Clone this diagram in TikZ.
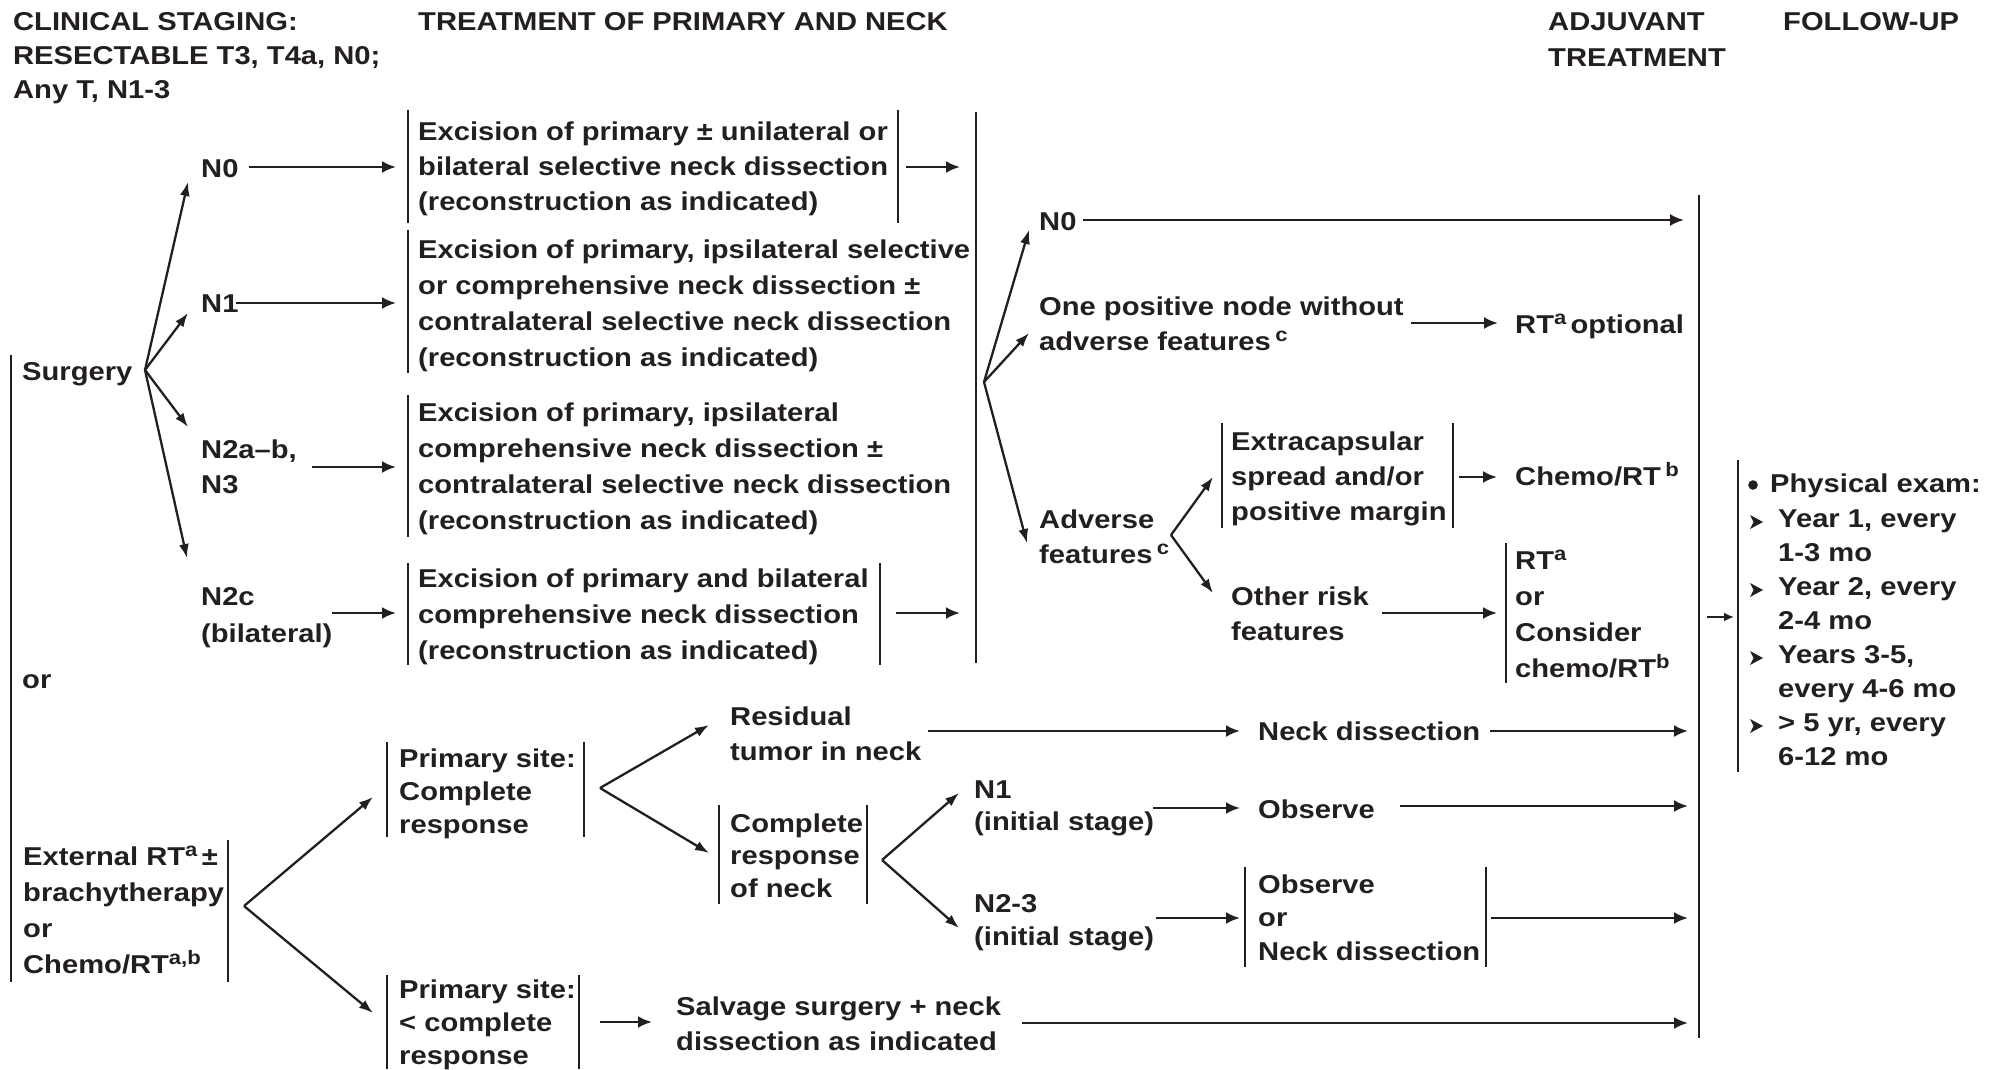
\documentclass[tikz,border=0pt]{standalone}
\usepackage{fontspec}
\setmainfont{Liberation Sans}[FakeStretch=1.13]
\usetikzlibrary{arrows.meta}
\definecolor{ink}{HTML}{231F20}
\newcommand{\sps}[1]{\raisebox{9pt}{\fontsize{19.5}{19.5}\selectfont #1}}
\begin{document}
\begin{tikzpicture}[x=1pt,y=-1pt,
  txt/.style={anchor=base west, inner sep=0pt, align=left, text=ink, font=\fontsize{25.8}{#1}\selectfont\bfseries},
  txt/.default=35.5,
  bar/.style={draw=ink, line width=2.6pt},
  arr/.style={draw=ink, line width=2.6pt, -{Latex[length=14pt,width=12pt]}},
  darr/.style={draw=ink, line width=2.3pt, -{Latex[length=14pt,width=10pt]}},
]
\useasboundingbox (0,0) rectangle (1999,1069);
% multi-line nodes are placed by the baseline of their LAST line

% ---------------- headers
\node[txt=34] (h1) at (13,98) {CLINICAL STAGING:\\RESECTABLE T3, T4a, N0;\\Any T, N1-3};
\node[txt] (h2) at (418,30) {TREATMENT OF PRIMARY AND NECK};
\node[txt=36] (h3) at (1548,66) {ADJUVANT\\TREATMENT};
\node[txt] (h4) at (1783,30) {FOLLOW-UP};

% ---------------- surgery branch
\draw[bar] (11,355) coordinate (lbT) -- (11,982) coordinate (lbB);
\node[txt] (surg) at (22,380) {Surgery};
\node[txt] (or1) at (22,688) {or};
\coordinate (sA) at (145,370);
\node[txt] (n0) at (201,177) {N0};
\node[txt] (n1) at (201,312) {N1};
\node[txt=35] (n2ab) at (201,493) {N2a–b,\\N3};
\node[txt=37] (n2c) at (201,642) {N2c\\(bilateral)};
\coordinate (tN0) at (188,182);
\coordinate (tN1) at (188,313);
\coordinate (tN2ab) at (188,427);
\coordinate (tN2c) at (187,558);
\draw[darr] (sA) -- (tN0);
\draw[darr] (sA) -- (tN1);
\draw[darr] (sA) -- (tN2ab);
\draw[darr] (sA) -- (tN2c);

\coordinate (n0s) at (249,167);  \coordinate (b1w) at (396,167);
\coordinate (n1s) at (236,303);  \coordinate (b2w) at (396,303);
\coordinate (n2abs) at (312,467); \coordinate (b3w) at (396,467);
\coordinate (n2cs) at (332,613);  \coordinate (b4w) at (396,613);
\draw[arr] (n0s) -- (b1w);
\draw[arr] (n1s) -- (b2w);
\draw[arr] (n2abs) -- (b3w);
\draw[arr] (n2cs) -- (b4w);

\node[txt=35] (b1) at (418,210) {Excision of primary ± unilateral or\\bilateral selective neck dissection\\(reconstruction as indicated)};
\draw[bar] (408,110) -- (408,223);
\draw[bar] (898,110) -- (898,223);
\node[txt=36] (b2) at (418,366) {Excision of primary, ipsilateral selective\\or comprehensive neck dissection ±\\contralateral selective neck dissection\\(reconstruction as indicated)};
\draw[bar] (408,230) -- (408,373);
\node[txt=35.7] (b3) at (418,529) {Excision of primary, ipsilateral\\comprehensive neck dissection ±\\contralateral selective neck dissection\\(reconstruction as indicated)};
\draw[bar] (408,395) -- (408,537);
\node[txt=36] (b4) at (418,659) {Excision of primary and bilateral\\comprehensive neck dissection\\(reconstruction as indicated)};
\draw[bar] (408,563) -- (408,665);
\draw[bar] (880,563) -- (880,665);
\coordinate (b1e) at (906,167); \coordinate (m1) at (960,167);
\coordinate (b4e) at (896,613); \coordinate (m4) at (960,613);
\draw[arr] (b1e) -- (m1);
\draw[arr] (b4e) -- (m4);
\draw[bar] (976,112) -- (976,663);

% ---------------- adjuvant
\coordinate (rA) at (984,382);
\coordinate (tR0) at (1029,230);
\coordinate (tR1) at (1029,333);
\coordinate (tR2) at (1027,543);
\draw[darr] (rA) -- (tR0);
\draw[darr] (rA) -- (tR1);
\draw[darr] (rA) -- (tR2);
\node[txt] (rn0) at (1039,230) {N0};
\coordinate (rn0s) at (1083,220); \coordinate (rn0e) at (1684,220);
\draw[arr] (rn0s) -- (rn0e);
\node[txt=35] (one) at (1039,350) {One positive node without\\adverse features\,\sps{c}};
\coordinate (ones) at (1411,323); \coordinate (onee) at (1498,323);
\draw[arr] (ones) -- (onee);
\node[txt] (rtopt) at (1515,333) {RT\sps{a}\,optional};
\draw[bar] (1699,195) -- (1699,1038);

\node[txt=35] (adv) at (1039,563) {Adverse\\features\,\sps{c}};
\coordinate (aA) at (1171,535);
\coordinate (tA1) at (1213,477);
\coordinate (tA2) at (1213,593);
\draw[darr] (aA) -- (tA1);
\draw[darr] (aA) -- (tA2);
\node[txt=35] (ecs) at (1231,520) {Extracapsular\\spread and/or\\positive margin};
\draw[bar] (1222,423) -- (1222,528);
\draw[bar] (1453,423) -- (1453,528);
\coordinate (ecse) at (1459,477); \coordinate (chw) at (1497,477);
\draw[arr] (ecse) -- (chw);
\node[txt] (chemo) at (1515,485) {Chemo/RT\,\sps{b}};
\node[txt=35] (other) at (1231,640) {Other risk\\features};
\coordinate (oths) at (1382,613); \coordinate (othe) at (1497,613);
\draw[arr] (oths) -- (othe);
\node[txt=35.7] (rtb) at (1515,677) {RT\sps{a}\\or\\Consider\\chemo/RT\sps{b}};
\draw[bar] (1506,543) -- (1506,683);

% ---------------- follow-up
\coordinate (fus) at (1707,617); \coordinate (fue) at (1734,617);
\draw[draw=ink, line width=2.2pt, -{Latex[length=10pt,width=9pt]}] (fus) -- (fue);
\draw[bar] (1738,460) -- (1738,772);
\fill[ink] (1753,485) circle (4.8);
\node[txt] (fu0) at (1770,492) {Physical exam:};
\node[txt=34] (fu1) at (1778,765) {Year 1, every\\1-3 mo\\Year 2, every\\2-4 mo\\Years 3-5,\\every 4-6 mo\\> 5 yr, every\\6-12 mo};
\foreach \yy in {527,595,663,731}
  \fill[ink] (1750,\yy-12) -- (1763,\yy-5) -- (1750,\yy+2) -- (1753.5,\yy-5) -- cycle;

% ---------------- radiotherapy branch
\node[txt=36] (ext) at (23,973) {External RT\sps{a}\,±\\brachytherapy\\or\\Chemo/RT\sps{a,b}};
\draw[bar] (228,840) -- (228,982);
\coordinate (eA) at (244,906);
\coordinate (tE1) at (373,797);
\coordinate (tE2) at (373,1013);
\draw[darr] (eA) -- (tE1);
\draw[darr] (eA) -- (tE2);

\node[txt=33] (pscr) at (399,833) {Primary site:\\Complete\\response};
\draw[bar] (387,742) -- (387,837);
\draw[bar] (584,742) -- (584,837);
\coordinate (pA) at (600,788);
\coordinate (tP1) at (709,725);
\coordinate (tP2) at (709,853);
\draw[darr] (pA) -- (tP1);
\draw[darr] (pA) -- (tP2);

\node[txt=35] (resid) at (730,760) {Residual\\tumor in neck};
\coordinate (ress) at (928,731); \coordinate (rese) at (1240,731);
\draw[arr] (ress) -- (rese);
\node[txt] (neckd) at (1258,740) {Neck dissection};
\coordinate (nds) at (1490,731); \coordinate (nde) at (1688,731);
\draw[arr] (nds) -- (nde);

\node[txt=32.5] (crn) at (730,897) {Complete\\response\\of neck};
\draw[bar] (719,805) -- (719,904);
\draw[bar] (867,805) -- (867,904);
\coordinate (cA) at (882,860);
\coordinate (tC1) at (959,793);
\coordinate (tC2) at (959,928);
\draw[darr] (cA) -- (tC1);
\draw[darr] (cA) -- (tC2);

\node[txt=32] (n1b) at (974,830) {N1\\(initial stage)};
\coordinate (n1bs) at (1153,808); \coordinate (n1be) at (1240,808);
\draw[arr] (n1bs) -- (n1be);
\node[txt] (obs) at (1258,818) {Observe};
\coordinate (obss) at (1400,806); \coordinate (obse) at (1688,806);
\draw[arr] (obss) -- (obse);

\node[txt=33] (n23) at (974,945) {N2-3\\(initial stage)};
\coordinate (n23s) at (1156,918); \coordinate (n23e) at (1240,918);
\draw[arr] (n23s) -- (n23e);
\node[txt=33.5] (obsnd) at (1258,960) {Observe\\or\\Neck dissection};
\draw[bar] (1245,867) -- (1245,967);
\draw[bar] (1486,867) -- (1486,967);
\coordinate (onds) at (1491,918); \coordinate (onde) at (1688,918);
\draw[arr] (onds) -- (onde);

\node[txt=33] (pslt) at (399,1064) {Primary site:\\< complete\\response};
\draw[bar] (387,975) -- (387,1069);
\draw[bar] (579,975) -- (579,1069);
\coordinate (psls) at (600,1022); \coordinate (psle) at (652,1022);
\draw[arr] (psls) -- (psle);
\node[txt=35] (salv) at (676,1050) {Salvage surgery + neck\\dissection as indicated};
\coordinate (salvs) at (1022,1023); \coordinate (salve) at (1688,1023);
\draw[arr] (salvs) -- (salve);
\end{tikzpicture}
\end{document}
